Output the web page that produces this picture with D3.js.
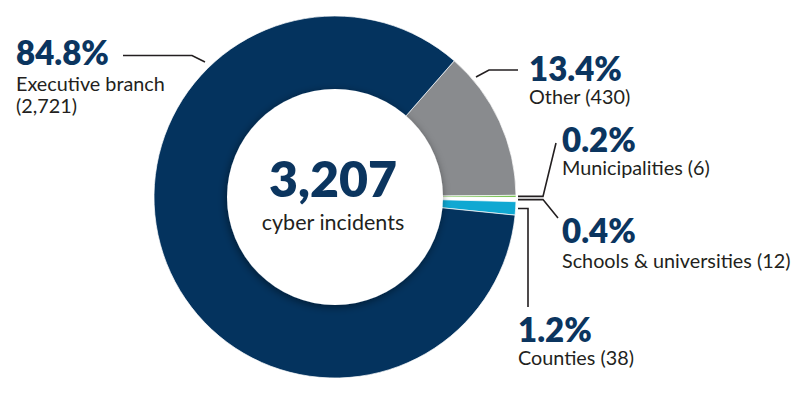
<!DOCTYPE html>
<html>
<head>
<meta charset="utf-8">
<script src="https://cdn.jsdelivr.net/npm/d3@7"></script>
<style>
  body { margin: 0; background: #fff; }
  text { font-family: Lato, "Noto Sans", sans-serif; }
</style>
</head>
<body>
<svg width="800" height="398"></svg>
<script>
// categories and counts
const categories = ["Other", "Municipalities", "Schools & universities", "Counties", "Executive branch"];
const counts = [430, 6, 12, 38, 2721];
const totalLabel = "3,207";
const totalCaption = "cyber incidents";

const svg = d3.select("svg");

// ring geometry
const cx = 335, cy = 197;
const outerR = 181, innerR = 108;
const startDeg = 41.2;

const color = d3.scaleOrdinal()
    .domain(categories)
    .range(["#898b8e", "#6cbd45", "#ffffff", "#10a8d2", "#04335e"]);

const navy = "#0b355f";
const ink = "#231f20";

const data = categories.map((c, i) => ({ name: c, count: counts[i] }));
const total = d3.sum(counts);
const pct = d3.format(".1%");

const pie = d3.pie()
    .sort(null)
    .value(d => d.count)
    .startAngle(startDeg * Math.PI / 180)
    .endAngle(startDeg * Math.PI / 180 + 2 * Math.PI);

const arc = d3.arc().innerRadius(innerR - 2).outerRadius(outerR);

// soft shadow under the inner hole
const defs = svg.append("defs");
const shadow = defs.append("filter").attr("id", "holeShadow")
    .attr("x", "-30%").attr("y", "-30%").attr("width", "160%").attr("height", "160%");
shadow.append("feDropShadow")
    .attr("dx", -1).attr("dy", 2)
    .attr("stdDeviation", 4)
    .attr("flood-color", "#000")
    .attr("flood-opacity", 0.45);

const g = svg.append("g").attr("transform", `translate(${cx},${cy})`);

g.selectAll("path.slice")
    .data(pie(data))
    .enter()
    .append("path")
    .attr("class", "slice")
    .attr("d", arc)
    .attr("fill", d => color(d.data.name))
    .attr("stroke", "#fff")
    .attr("stroke-width", 0.7);

g.append("circle")
    .attr("r", innerR)
    .attr("fill", "#fff")
    .attr("filter", "url(#holeShadow)");

// centre text
g.append("text")
    .attr("x", -2).attr("y", 0)
    .attr("text-anchor", "middle")
    .attr("font-size", "50px")
    .attr("font-weight", 800)
    .attr("fill", navy)
    .text(totalLabel);

g.append("text")
    .attr("x", -2).attr("y", 33)
    .attr("text-anchor", "middle")
    .attr("font-size", "21.5px")
    .attr("fill", ink)
    .text(totalCaption);

// label layout: where each label sits and how its leader bends
const labelLayout = {
    "Executive branch": { x: 16, y: 65, gap: 26, lines: ["Executive branch", "(2,721)"],
        leader: [[205, 62], [192, 55.5], [123, 55.5]] },
    "Other": { x: 529, y: 81, gap: 23, lines: ["Other (430)"],
        leader: [[476, 77], [489, 70], [518, 70]] },
    "Municipalities": { x: 562, y: 152, gap: 23, lines: ["Municipalities (6)"],
        leader: "right", elbow: [[543, 0], [556, 143]] },
    "Schools & universities": { x: 562, y: 243, gap: 25, lines: ["Schools & universities (12)"],
        leader: "right", elbow: [[543, 0], [558, 218]] },
    "Counties": { x: 518, y: 342, gap: 23, lines: ["Counties (38)"],
        leader: "right", elbow: [[528, 0], [528, 307]] }
};

const line = d3.line();
const leaders = svg.append("g");
const labels = svg.append("g");

pie(data).forEach(d => {
    const L = labelLayout[d.data.name];
    let pts;
    if (L.leader === "right") {
        const mid = (d.startAngle + d.endAngle) / 2;
        const y0 = cy - outerR * Math.cos(mid);
        pts = [[cx + outerR + 2, y0], [L.elbow[0][0], y0], L.elbow[1]];
    } else {
        pts = L.leader;
    }
    leaders.append("path")
        .attr("d", line(pts))
        .attr("fill", "none")
        .attr("stroke", ink)
        .attr("stroke-width", 1.6);

    const t = labels.append("text")
        .attr("x", L.x).attr("y", L.y);
    t.append("tspan")
        .attr("x", L.x)
        .attr("font-size", "33px")
        .attr("font-weight", 800)
        .attr("fill", navy)
        .text(pct(d.data.count / total));
    L.lines.forEach((s, i) => {
        t.append("tspan")
            .attr("x", L.x)
            .attr("dy", i === 0 ? L.gap : 22)
            .attr("font-size", "19.8px")
            .attr("fill", ink)
            .text(s);
    });
});
</script>
</body>
</html>
